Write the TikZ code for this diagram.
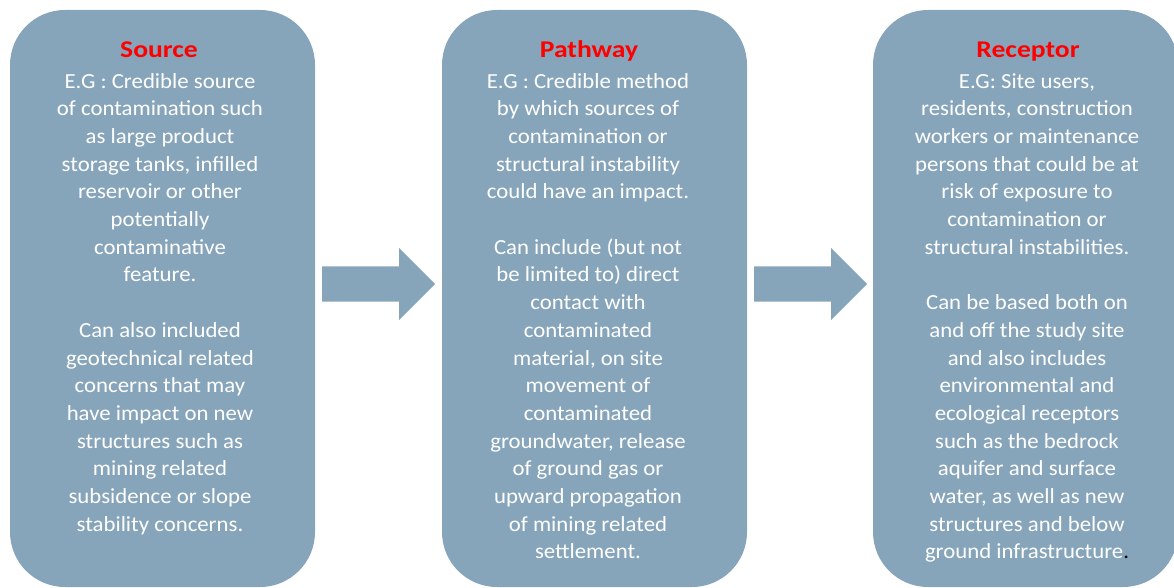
\documentclass[tikz,border=0pt]{standalone}
\usepackage{fontspec}
\setmainfont[FakeStretch=1.06]{Carlito}
\newfontfamily\titlefont[FakeStretch=1.15]{Carlito}
\usepackage{xcolor}
\usetikzlibrary{shapes.arrows}
\definecolor{boxblue}{RGB}{135,165,186}
\tikzset{
  stagebox/.style={rectangle, rounded corners=55pt, fill=boxblue, minimum width=305pt, minimum height=577pt, inner sep=0pt},
  stagetitle/.style={anchor=base, text=red, font=\titlefont\fontsize{24}{27}\selectfont\bfseries},
  stagetext/.style={anchor=base, text=white, align=center, inner sep=0pt, font=\fontsize{21.5}{27.7}\selectfont},
  flowarrow/.style={single arrow, anchor=tail, fill=boxblue, minimum height=113pt, inner xsep=0pt, inner ysep=17.5pt, single arrow head extend=18.5pt},
}

\begin{document}
\begin{tikzpicture}[x=1pt,y=-1pt]
\useasboundingbox (0,0) rectangle (1174,588);
% the three stages
\node[stagebox] (source) at (162.5,298.5) {};
\node[stagebox] (pathway) at (594.5,298.5) {};
\node[stagebox] (receptor) at (1025.5,298.5) {};
% arrows between them
\node[flowarrow] (srcarrow) at (322,284) {};
\node[flowarrow] (patharrow) at (754,284) {};
% titles
\node[stagetitle] (sourcetitle) at (159,58) {Source};
\node[stagetitle] (pathwaytitle) at (589,58) {Pathway};
\node[stagetitle] (receptortitle) at (1028,58) {Receptor};
% texts (anchored at the baseline of their last line)
\node[stagetext] (sourcetext) at (160,531.2) {E.G : Credible source\\of contamination such\\as large product\\storage tanks, infilled\\reservoir or other\\potentially\\contaminative\\feature.\\[27.7pt]Can also included\\geotechnical related\\concerns that may\\have impact on new\\structures such as\\mining related\\subsidence or slope\\stability concerns.};
\node[stagetext] (pathwaytext) at (588,558.9) {E.G : Credible method\\by which sources of\\contamination or\\structural instability\\could have an impact.\\[27.7pt]Can include (but not\\be limited to) direct\\contact with\\contaminated\\material, on site\\movement of\\contaminated\\groundwater, release\\of ground gas or\\upward propagation\\of mining related\\settlement.};
\node[stagetext] (receptortext) at (1027,558.9) {E.G: Site users,\\residents, construction\\workers or maintenance\\persons that could be at\\risk of exposure to\\contamination or\\structural instabilities.\\[27.7pt]Can be based both on\\and off the study site\\and also includes\\environmental and\\ecological receptors\\such as the bedrock\\aquifer and surface\\water, as well as new\\structures and below\\ground infrastructure\textcolor{black}{.}};
\end{tikzpicture}
\end{document}
